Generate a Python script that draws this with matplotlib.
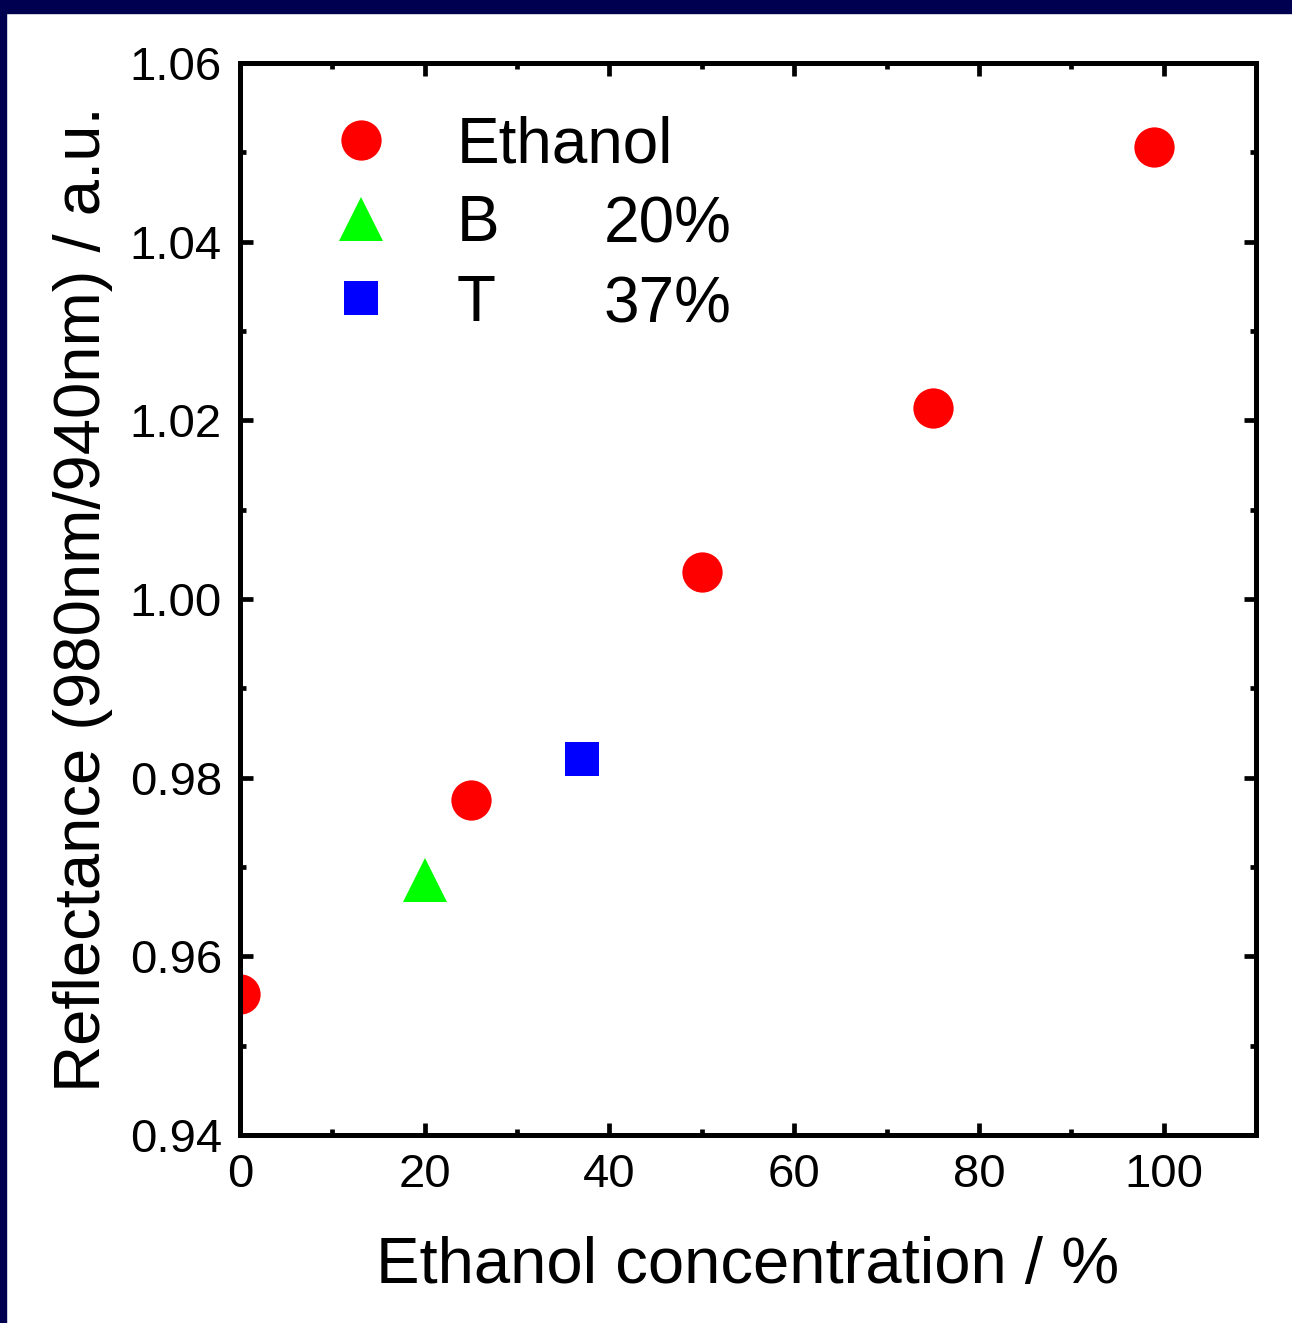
import matplotlib.pyplot as plt
from matplotlib.ticker import MultipleLocator
from matplotlib.patches import Rectangle

plt.rcParams['font.family'] = ['Liberation Sans', 'DejaVu Sans']

# data
ethanol_x = [0, 25, 50, 75, 99]
ethanol_y = [0.9558, 0.9775, 1.0030, 1.0214, 1.0506]
b_x = [20]
b_y = [0.9685]
t_x = [37]
t_y = [0.9821]

fig = plt.figure(figsize=(12.92, 13.23), dpi=100)
# dark frame at the top and left edge
fig.patches.append(Rectangle((0, 1 - 13 / 1323), 1, 13 / 1323, transform=fig.transFigure,
                             color='#000050', zorder=0))
fig.patches.append(Rectangle((0, 0), 6 / 1292, 1, transform=fig.transFigure,
                             color='#000050', zorder=0))

ax = fig.add_axes([0.1858, 0.1421, 0.9721 - 0.1858, 0.9524 - 0.1421])

ax.plot(ethanol_x, ethanol_y, 'o', color='red', markersize=29, markeredgewidth=0, label='Ethanol')
ax.plot(b_x, b_y, '^', color='#00ff00', markersize=31, markeredgewidth=0, label='B')
ax.plot(t_x, t_y, 's', color='blue', markersize=24, markeredgewidth=0, label='T')

ax.set_xlim(0, 110)
ax.set_ylim(0.94, 1.06)
ax.xaxis.set_major_locator(MultipleLocator(20))
ax.xaxis.set_minor_locator(MultipleLocator(10))
ax.yaxis.set_major_locator(MultipleLocator(0.02))
ax.yaxis.set_minor_locator(MultipleLocator(0.01))
ax.yaxis.set_major_formatter(lambda v, p: f'{v:.2f}')

for s in ax.spines.values():
    s.set_linewidth(3.6)
ax.tick_params(which='both', direction='in', top=True, right=True, labelsize=34, width=3.4, pad=13)
ax.tick_params(which='major', length=9)
ax.tick_params(which='minor', length=4.5)

ax.set_xlabel('Ethanol concentration / %', fontsize=47, labelpad=28)
ax.set_ylabel('Reflectance (980nm/940nm) / a.u.', fontsize=47, labelpad=12)

leg = ax.legend(loc='upper left', bbox_to_anchor=(0.062, 0.975), frameon=False, fontsize=46,
                handletextpad=1.0, labelspacing=0.3, handlelength=1.0, borderaxespad=0)
ax.text(0.358, 0.848, '20%', transform=ax.transAxes, fontsize=46, va='center')
ax.text(0.358, 0.774, '37%', transform=ax.transAxes, fontsize=46, va='center')

fig.savefig('out.png', dpi=100)
